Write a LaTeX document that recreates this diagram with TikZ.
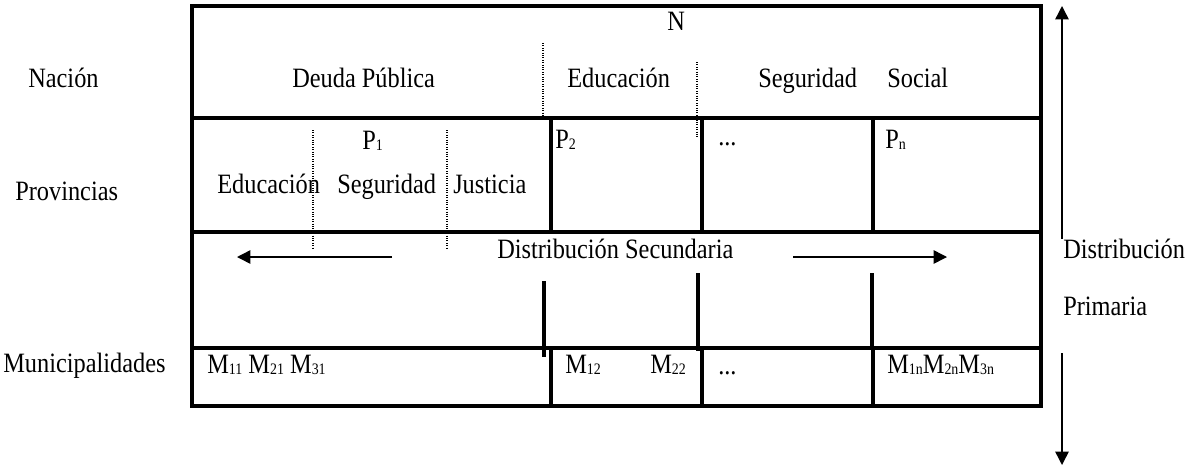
\documentclass[tikz,border=0pt]{standalone}
\usepackage{fontspec}
\setmainfont{Liberation Serif}[FakeStretch=0.87]
\usetikzlibrary{arrows.meta}
\newcommand{\idx}[1]{\raisebox{-1pt}{\fontsize{12}{12}\selectfont #1}}

\begin{document}
\begin{tikzpicture}[x=0.75pt, y=-0.75pt,
        every node/.style={inner sep=0pt, anchor=base west, font=\fontsize{21}{24}\selectfont},
        grid/.style={line width=2.4pt},
        sep/.style={densely dotted, line width=0.8pt},
        flow/.style={line width=1.1pt, -{Triangle[length=10pt,width=10pt]}}]
        \useasboundingbox (0,0) rectangle (1199,472);

        % table
        \draw[grid] (192,6) rectangle (1041,406);
        \draw[grid] (192,118) -- (1041,118);
        \draw[grid] (192,232) -- (1041,232);
        \draw[grid] (192,348) -- (1041,348);
        \foreach \x in {551,702,873} {
            \draw[grid] (\x,118) -- (\x,232);
            \draw[grid] (\x,348) -- (\x,406);
        }
        \draw[grid] (544,281) -- (544,357);
        \draw[grid] (698,273) -- (698,351);
        \draw[grid] (872,273) -- (872,348);
        \draw[sep] (543,43) -- (543,118);
        \draw[sep] (697,62) -- (697,137);
        \draw[sep] (313,130) -- (313,248);
        \draw[sep] (447,130) -- (447,248);

        % levels
        \node (nacion) at (28,87) {Nación};
        \node (prov) at (15,200) {Provincias};
        \node (muni) at (3,372) {Municipalidades};

        % nation row
        \node (N) at (667,30) {N};
        \node (deuda) at (292,87) {Deuda Pública};
        \node (educ) at (567,87) {Educación};
        \node (segur) at (758,87) {Seguridad};
        \node (social) at (887,87) {Social};

        % provinces row
        \node (P1) at (362,149) {P\idx{1}};
        \node (P2) at (555,148) {P\idx{2}};
        \node (Pdots) at (718,145) {...};
        \node (Pn) at (885,148) {P\idx{n}};
        \node (peduc) at (217,193) {Educación};
        \node (psegur) at (337,193) {Seguridad};
        \node (pjust) at (453,193) {Justicia};

        % secondary distribution
        \node (sec) at (497,258) {Distribución Secundaria};
        \coordinate (secL0) at (392,257);
        \coordinate (secL1) at (237,257);
        \coordinate (secR0) at (793,257);
        \coordinate (secR1) at (947,257);
        \draw[flow] (secL0) -- (secL1);
        \draw[flow] (secR0) -- (secR1);

        % municipalities row
        \node (M1) at (207,373) {M\idx{11} M\idx{21} M\idx{31}};
        \node (M12) at (565,373) {M\idx{12}};
        \node (M22) at (650,373) {M\idx{22}};
        \node (Mdots) at (718,374) {...};
        \node (Mn) at (887,373) {M\idx{1n}M\idx{2n}M\idx{3n}};

        % primary distribution
        \node (prim1) at (1063,258) {Distribución};
        \node (prim2) at (1063,315) {Primaria};
        \coordinate (up0) at (1062,239);
        \coordinate (up1) at (1062,6);
        \coordinate (dn0) at (1062,353);
        \coordinate (dn1) at (1062,465);
        \draw[flow] (up0) -- (up1);
        \draw[flow] (dn0) -- (dn1);
\end{tikzpicture}
\end{document}
